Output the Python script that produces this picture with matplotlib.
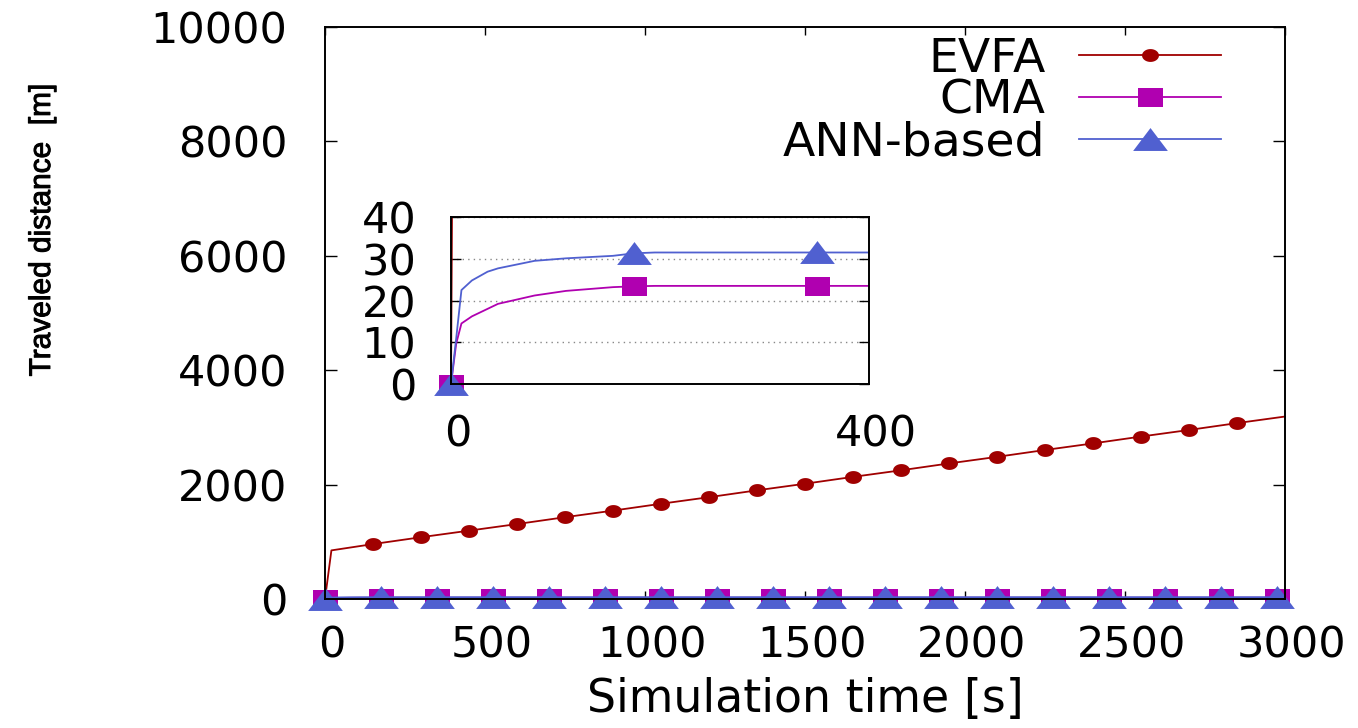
import numpy as np
import matplotlib
matplotlib.use("Agg")
from matplotlib import pyplot as plt
from matplotlib import patheffects
from matplotlib.path import Path
from matplotlib.lines import Line2D
from matplotlib.transforms import ScaledTranslation

# EVFA: quick jump at start, then steady growth
t_evfa = [0, 20, 150, 300, 450, 600, 750, 900, 1050, 1200, 1350, 1500, 1650,
          1800, 1950, 2100, 2250, 2400, 2550, 2700, 2850, 3000]
d_evfa = [0, 850, 960, 1080, 1195, 1310, 1430, 1545, 1665, 1780, 1900, 2015,
          2135, 2250, 2370, 2485, 2605, 2720, 2840, 2955, 3075, 3190]

# CMA and ANN-based share the same time samples
t_slow = [0, 5, 10, 20, 35, 45, 80, 110, 155, 175, 195, 350, 525, 700, 875,
          1050, 1225, 1400, 1575, 1750, 1925, 2100, 2275, 2450, 2625, 2800,
          2975, 3000]
d_cma = [0, 9.7, 14.5, 16.2, 18.0, 19.2, 21.2, 22.3, 23.2, 23.4, 23.5, 23.5,
         23.5, 23.5, 23.5, 23.5, 23.5, 23.5, 23.5, 23.5, 23.5, 23.5, 23.5,
         23.5, 23.5, 23.5, 23.5, 23.5]
d_ann = [0, 11.0, 22.5, 24.8, 26.9, 27.7, 29.5, 30.1, 30.7, 31.3, 31.5, 31.5,
         31.5, 31.5, 31.5, 31.5, 31.5, 31.5, 31.5, 31.5, 31.5, 31.5, 31.5,
         31.5, 31.5, 31.5, 31.5, 31.5]

labels = ["EVFA", "CMA", "ANN-based"]
colors = ["#a00000", "#b000b0", "#5060d0"]

# gnuplot-like point shapes (a bit wider than tall)
th = np.linspace(0, 2 * np.pi, 41)
circ = Path(np.c_[np.cos(th), 0.76 * np.sin(th)])
sq = Path([(-1, -0.76), (1, -0.76), (1, 0.76), (-1, 0.76), (-1, -0.76)])
tri = Path([(-1, -0.66), (1, -0.66), (0, 0.66), (-1, -0.66)])
marks = [circ, sq, tri]
msizes = [12.2, 18, 25]

series = [(np.array(t_evfa), np.array(d_evfa)),
          (np.array(t_slow), np.array(d_cma)),
          (np.array(t_slow), np.array(d_ann))]
# marker every 150 s for EVFA, every 175 s for the others
mark_idx = [np.arange(2, 21),
            np.r_[0, 9, np.arange(11, 27)],
            np.r_[0, 9, np.arange(11, 27)]]

plt.rcParams['font.family'] = 'DejaVu Sans'
fig = plt.figure(figsize=(13.58, 7.28), dpi=100)

ax = fig.add_axes([325 / 1358, 1 - 599 / 728, 960 / 1358, 572 / 728])
for (t, d), c, m, ms, idx in zip(series, colors, marks, msizes, mark_idx):
    ax.plot(t, d, color=c, lw=1.3, clip_on=False)
    ax.plot(t[idx], d[idx], ls='none', marker=m, ms=ms, mew=0, color=c,
            clip_on=False)

ax.set_xlim(0, 3000)
ax.set_ylim(0, 10000)
ax.set_xticks(np.arange(0, 3001, 500))
ax.set_yticks(np.arange(0, 10001, 2000))
ax.tick_params(direction='in', top=True, right=True, labelsize=31, width=1)
ax.tick_params(axis='x', length=6, pad=18)
ax.tick_params(axis='y', length=8.6, pad=27)
for s in ax.spines.values():
    s.set_linewidth(1.4)
shift = ScaledTranslation(7 / 100, 0, fig.dpi_scale_trans)
for lab in ax.get_xticklabels():
    lab.set_transform(lab.get_transform() + shift)

# zoomed view of the first 400 s
ax2 = fig.add_axes([451 / 1358, 1 - 384 / 728, 418 / 1358, 167 / 728])
for (t, d), c, m, ms, idx in zip(series, colors, marks, msizes, mark_idx):
    ax2.plot(t, d, color=c, lw=1.3)
    if c == colors[0]:
        continue
    sel = idx[t[idx] <= 400]
    ax2.plot(t[sel], d[sel], ls='none', marker=m, ms=ms, mew=0, color=c,
             clip_on=False)
ax2.set_xlim(0, 400)
ax2.set_ylim(0, 40)
ax2.set_xticks([0, 400])
ax2.set_yticks(np.arange(0, 41, 10))
ax2.yaxis.grid(True, linestyle=(0, (1, 3)), color='#888888', lw=1)
ax2.tick_params(direction='in', right=True, labelsize=31, width=1)
ax2.tick_params(axis='x', length=0, pad=21.5)
ax2.tick_params(axis='y', length=7.5, pad=25)
for s in ax2.spines.values():
    s.set_linewidth(1.4)
for lab in ax2.get_xticklabels():
    lab.set_transform(lab.get_transform() + shift)

handles = [Line2D([], [], color=c, lw=1.3, marker=m, ms=ms, mew=0)
           for c, m, ms in zip(colors, marks, msizes)]
fig.legend(handles, labels, loc='upper right',
           bbox_to_anchor=(1221 / 1358, 1 - 37 / 728),
           bbox_transform=fig.transFigure, markerfirst=False, frameon=False,
           numpoints=1, handlelength=3.0, handletextpad=0.72,
           labelspacing=-0.07, borderpad=0, borderaxespad=0, fontsize=34)

fig.text(805 / 1358, 1 - 712 / 728, "Simulation time [s]", ha='center',
         va='baseline', fontsize=33)
fig.text(42 / 1358, 1 - 230 / 728, "Traveled distance  [m]", rotation=90,
         ha='center', va='center', fontsize=21.5, family='Liberation Sans',
         path_effects=[patheffects.withStroke(linewidth=0.7,
                                              foreground='black')])

fig.savefig('out.png', dpi=100)
